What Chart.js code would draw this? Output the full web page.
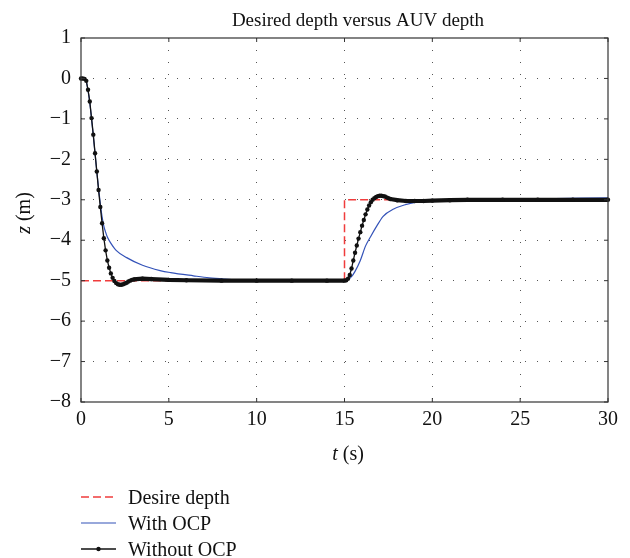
<!DOCTYPE html>
<html>
<head>
<meta charset="utf-8">
<title>Desired depth versus AUV depth</title>
<script src="https://cdn.jsdelivr.net/npm/chart.js@4.4.1/dist/chart.umd.min.js"></script>
<style>
  html, body { margin: 0; padding: 0; background: #fff; }
  canvas { display: block; }
</style>
</head>
<body>
<canvas id="depth-chart" width="630" height="558"></canvas>
<script>
// ค่าอ่านจากภาพต้นฉบับ: t (s) และ z (m)
const SERIF = '"Liberation Serif", "DejaVu Serif", serif';

const xTicks = [0, 5, 10, 15, 20, 25, 30];
const yTicks = [1, 0, -1, -2, -3, -4, -5, -6, -7, -8];

const seriesLabels = ['Desire depth', 'With OCP', 'Without OCP'];

// ความลึกที่ต้องการ (step ที่ t = 15)
const tDesired = [0, 15, 15, 30];
const zDesired = [-5, -5, -3, -3];

// With OCP
const tWith = [0, 0.2, 0.3, 0.4, 0.5, 0.6, 0.7, 0.8, 0.9, 1.0, 1.1, 1.2, 1.3, 1.4, 1.5, 1.65, 2.0, 2.6, 3.5,
  4.5, 5.1, 6.4, 7.3, 8.2, 9.5, 11, 15, 15.2, 15.4, 15.6, 15.9, 16.2, 16.5, 16.85, 17.2, 17.8, 18.4, 19.1,
  19.7, 20.5, 22, 24, 27, 30];
const zWith = [0, -0.02, -0.08, -0.3, -0.6, -1.0, -1.42, -1.86, -2.3, -2.72, -3.1, -3.42, -3.65, -3.8, -3.92,
  -4.04, -4.25, -4.43, -4.62, -4.75, -4.8, -4.88, -4.93, -4.96, -4.99, -5.0, -5.0, -4.97, -4.9, -4.77, -4.5,
  -4.14, -3.9, -3.64, -3.41, -3.23, -3.13, -3.06, -3.04, -3.02, -3.0, -2.99, -2.97, -2.95];

// Without OCP (ช่วงเปลี่ยนแปลงอ่านทุก 0.1 s, ช่วงนิ่งอ่านห่างกว่า)
const tWithout = [0, 0.1, 0.2, 0.3, 0.4, 0.5, 0.6, 0.7, 0.8, 0.9, 1.0, 1.1, 1.2, 1.3, 1.4, 1.5, 1.6, 1.7, 1.8,
  1.9, 2.0, 2.1, 2.2, 2.3, 2.4, 2.5, 2.6, 2.7, 2.8, 2.9, 3.0, 3.5, 4, 5, 6, 8, 10, 12, 14,
  15.0, 15.1, 15.2, 15.3, 15.4, 15.5, 15.6, 15.7, 15.8, 15.9, 16.0, 16.1, 16.2, 16.3, 16.4, 16.5, 16.6, 16.7,
  16.8, 16.9, 17.0, 17.1, 17.2, 17.3, 17.4, 17.5, 17.6, 18, 18.5, 19, 19.5, 20, 21, 22, 24, 26, 28, 30];
const zWithout = [0, 0, -0.01, -0.06, -0.28, -0.57, -0.98, -1.39, -1.85, -2.3, -2.76, -3.18, -3.58, -3.95,
  -4.25, -4.5, -4.68, -4.82, -4.93, -5.01, -5.06, -5.09, -5.1, -5.1, -5.09, -5.07, -5.05, -5.02, -5.0, -4.98,
  -4.97, -4.95, -4.96, -4.98, -4.99, -5.0, -5.0, -5.0, -5.0,
  -5.0, -4.99, -4.95, -4.86, -4.7, -4.5, -4.31, -4.13, -3.96, -3.8, -3.64, -3.5, -3.36, -3.24, -3.14, -3.06,
  -3.0, -2.96, -2.93, -2.91, -2.9, -2.9, -2.91, -2.92, -2.94, -2.96, -2.98, -3.01, -3.03, -3.03, -3.03, -3.02,
  -3.01, -3.0, -3.0, -3.0, -3.0, -3.0];

const toPoints = (ts, zs) => ts.map((t, i) => ({ x: t, y: zs[i] }));
const fmtMinus = (v) => (v < 0 ? '\u2212' + Math.abs(v) : String(v));

// กรอบแกน + ขีด tick ด้านใน
const boxPlugin = {
  id: 'axisBox',
  afterDraw(chart) {
    const { ctx, chartArea: a, scales } = chart;
    ctx.save();
    ctx.strokeStyle = '#333';
    ctx.lineWidth = 1.2;
    ctx.strokeRect(a.left, a.top, a.right - a.left, a.bottom - a.top);
    ctx.lineWidth = 1;
    ctx.beginPath();
    xTicks.forEach((v) => {
      const x = scales.x.getPixelForValue(v);
      ctx.moveTo(x, a.bottom); ctx.lineTo(x, a.bottom - 4);
      ctx.moveTo(x, a.top); ctx.lineTo(x, a.top + 4);
    });
    yTicks.forEach((v) => {
      const y = scales.y.getPixelForValue(v);
      ctx.moveTo(a.left, y); ctx.lineTo(a.left + 4, y);
      ctx.moveTo(a.right, y); ctx.lineTo(a.right - 4, y);
    });
    ctx.stroke();
    ctx.restore();
  }
};

// ชื่อกราฟและชื่อแกน (ตัวแปรเป็นตัวเอียง)
const textPlugin = {
  id: 'titles',
  afterDraw(chart) {
    const ctx = chart.ctx;
    ctx.save();
    ctx.fillStyle = '#111';
    ctx.textBaseline = 'alphabetic';

    ctx.font = '19px ' + SERIF;
    ctx.textAlign = 'center';
    ctx.fillText('Desired depth versus AUV depth', 358, 26);

    const drawMixed = (italicPart, rest, cx, cy) => {
      ctx.textAlign = 'left';
      ctx.font = 'italic 20px ' + SERIF;
      const w1 = ctx.measureText(italicPart).width;
      ctx.font = '20px ' + SERIF;
      const w2 = ctx.measureText(rest).width;
      const x0 = cx - (w1 + w2) / 2;
      ctx.font = 'italic 20px ' + SERIF;
      ctx.fillText(italicPart, x0, cy);
      ctx.font = '20px ' + SERIF;
      ctx.fillText(rest, x0 + w1, cy);
    };

    drawMixed('t', ' (s)', 348, 460);

    ctx.translate(30, 213);
    ctx.rotate(-Math.PI / 2);
    drawMixed('z', ' (m)', 0, 0);
    ctx.restore();
  }
};

// legend แบบเรียงลงด้านล่างซ้าย
const legendPlugin = {
  id: 'stackedLegend',
  afterDraw(chart) {
    const ctx = chart.ctx;
    chart.data.datasets.forEach((ds, i) => {
      const y = 497 + i * 26;
      ctx.save();
      ctx.strokeStyle = ds.borderColor;
      ctx.lineWidth = ds.legendLineWidth;
      ctx.setLineDash(ds.borderDash || []);
      ctx.beginPath();
      ctx.moveTo(81, y);
      ctx.lineTo(116, y);
      ctx.stroke();
      if (ds.pointRadius > 0) {
        ctx.fillStyle = ds.pointBackgroundColor;
        ctx.beginPath();
        ctx.arc(98.5, y, ds.pointRadius, 0, Math.PI * 2);
        ctx.fill();
      }
      ctx.fillStyle = '#111';
      ctx.font = '20px ' + SERIF;
      ctx.textAlign = 'left';
      ctx.textBaseline = 'alphabetic';
      ctx.fillText(ds.label, 128, y + 6.7);
      ctx.restore();
    });
  }
};

const gridColor = (min, max) => (c) =>
  (c.tick && (c.tick.value === min || c.tick.value === max)) ? 'rgba(0,0,0,0)' : '#555';

new Chart(document.getElementById('depth-chart'), {
  type: 'line',
  data: {
    datasets: [
      {
        label: seriesLabels[0],
        data: toPoints(tDesired, zDesired),
        borderColor: '#f03c3c',
        borderWidth: 1.5,
        legendLineWidth: 1.5,
        borderDash: [8, 4],
        pointRadius: 0,
        order: 3
      },
      {
        label: seriesLabels[1],
        data: toPoints(tWith, zWith),
        borderColor: '#3352b8',
        borderWidth: 1.2,
        legendLineWidth: 1.2,
        pointRadius: 0,
        cubicInterpolationMode: 'monotone',
        order: 2
      },
      {
        label: seriesLabels[2],
        data: toPoints(tWithout, zWithout),
        borderColor: '#111',
        borderWidth: 1.3,
        legendLineWidth: 1.3,
        pointRadius: 2.2,
        pointBackgroundColor: '#111',
        pointBorderWidth: 0,
        clip: 4,
        // ช่วงนิ่งจุด marker ติดกันเป็นเส้นหนา
        segment: { borderWidth: (c) => (c.p1.parsed.x - c.p0.parsed.x > 0.15 ? 4.2 : 1.3) },
        order: 1
      }
    ]
  },
  options: {
    responsive: false,
    devicePixelRatio: 1,
    animation: false,
    events: [],
    layout: { padding: { top: 38, right: 22, bottom: 96, left: 0 } },
    plugins: { legend: { display: false }, title: { display: false }, tooltip: { enabled: false } },
    scales: {
      x: {
        type: 'linear',
        min: 0,
        max: 30,
        afterBuildTicks: (s) => { s.ticks = xTicks.map((v) => ({ value: v })); },
        afterFit: (s) => { s.height = 60; },
        ticks: { color: '#111', font: { family: SERIF, size: 20 }, padding: 6, maxRotation: 0 },
        grid: { color: gridColor(0, 30), lineWidth: 1, drawTicks: false },
        border: { display: false, dash: [1, 11] }
      },
      y: {
        type: 'linear',
        min: -8,
        max: 1,
        afterBuildTicks: (s) => { s.ticks = yTicks.map((v) => ({ value: v })); },
        afterFit: (s) => { s.width = 81; },
        ticks: { color: '#111', font: { family: SERIF, size: 20 }, padding: 10, callback: fmtMinus },
        grid: { color: gridColor(-8, 1), lineWidth: 1, drawTicks: false },
        border: { display: false, dash: [1, 11] }
      }
    }
  },
  plugins: [boxPlugin, textPlugin, legendPlugin]
});
</script>
</body>
</html>
